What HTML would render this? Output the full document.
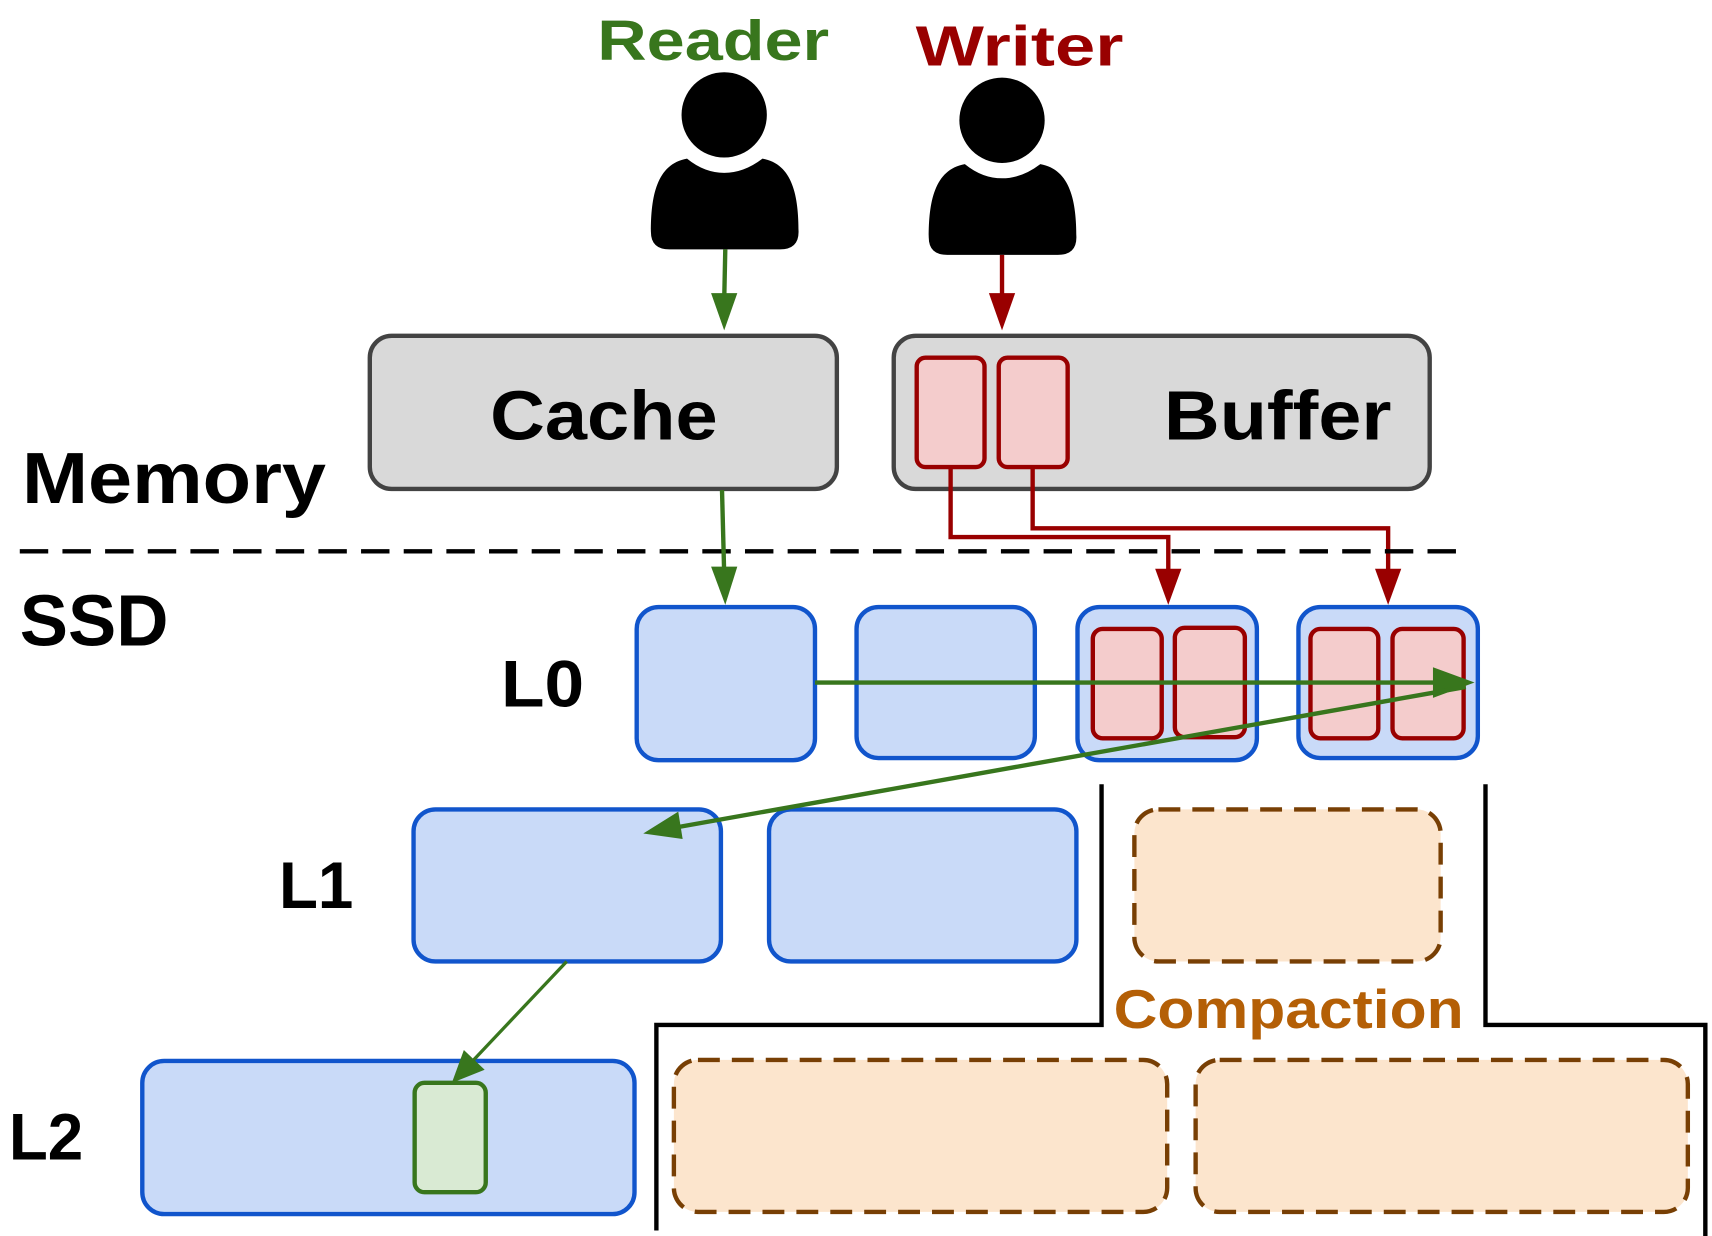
<!DOCTYPE html>
<html><head><meta charset="utf-8"><style>
html,body{margin:0;padding:0;background:#fff;}
svg{display:block;}
text{font-family:"Liberation Sans",sans-serif;font-weight:bold;}
</style></head><body>
<svg width="1712" height="1236" viewBox="0 0 1565 1130" xmlns="http://www.w3.org/2000/svg">
<!-- titles -->
<text x="652" y="55" font-size="52" fill="#38761d" text-anchor="middle" textLength="212" lengthAdjust="spacingAndGlyphs">Reader</text>
<text x="932" y="60" font-size="52" fill="#990000" text-anchor="middle" textLength="190" lengthAdjust="spacingAndGlyphs">Writer</text>
<!-- persons -->
<g fill="#000">
<circle cx="662" cy="105" r="39"/>
<path d="M628,145 C600,150 595,180 595,212 Q595,228 612,228 L713,228 Q730,228 730,212 C730,180 725,150 697,145 Q680,158 662,158 Q644,158 628,145 Z"/>
<circle cx="916" cy="110" r="39"/>
<path d="M882,150 C854,155 849,185 849,217 Q849,233 866,233 L967,233 Q984,233 984,217 C984,185 979,155 951,150 Q934,163 916,163 Q898,163 882,150 Z"/>
</g>
<!-- arrows from persons -->
<line x1="663" y1="228" x2="662" y2="275" stroke="#38761d" stroke-width="4"/>
<path d="M650,268 L674,268 L662,302 Z" fill="#38761d"/>
<line x1="916" y1="233" x2="916" y2="275" stroke="#990000" stroke-width="4"/>
<path d="M904,268 L928,268 L916,302 Z" fill="#990000"/>
<!-- memory boxes -->
<rect x="338" y="307" width="427" height="140" rx="20" fill="#d9d9d9" stroke="#434343" stroke-width="4"/>
<text x="552" y="402" font-size="64" text-anchor="middle" textLength="208" lengthAdjust="spacingAndGlyphs">Cache</text>
<rect x="817" y="307" width="490" height="140" rx="20" fill="#d9d9d9" stroke="#434343" stroke-width="4"/>
<text x="1168" y="402" font-size="64" text-anchor="middle" textLength="208" lengthAdjust="spacingAndGlyphs">Buffer</text>
<rect x="838" y="327" width="62" height="100" rx="8" fill="#f4cccc" stroke="#990000" stroke-width="4"/>
<rect x="913" y="327" width="63" height="100" rx="8" fill="#f4cccc" stroke="#990000" stroke-width="4"/>
<!-- red routing -->
<polyline points="869,427 869,491 1068,491 1068,528" fill="none" stroke="#990000" stroke-width="4"/>
<path d="M1056,520 L1080,520 L1068,553 Z" fill="#990000"/>
<polyline points="944,427 944,483 1269,483 1269,528" fill="none" stroke="#990000" stroke-width="4"/>
<path d="M1257,520 L1281,520 L1269,553 Z" fill="#990000"/>
<!-- labels -->
<text x="20" y="460" font-size="66" textLength="278" lengthAdjust="spacingAndGlyphs">Memory</text>
<line x1="18" y1="504" x2="1342" y2="504" stroke="#000" stroke-width="4" stroke-dasharray="26,13"/>
<text x="18" y="590" font-size="66" textLength="136" lengthAdjust="spacingAndGlyphs">SSD</text>
<text x="458" y="646" font-size="60" textLength="76" lengthAdjust="spacingAndGlyphs">L0</text>
<text x="255" y="830" font-size="60" textLength="68" lengthAdjust="spacingAndGlyphs">L1</text>
<text x="8" y="1060" font-size="60" textLength="68" lengthAdjust="spacingAndGlyphs">L2</text>
<!-- green cache arrow -->
<line x1="660" y1="448" x2="662" y2="525" stroke="#38761d" stroke-width="4"/>
<path d="M650,518 L674,518 L663,553 Z" fill="#38761d"/>
<!-- L0 -->
<g fill="#c9daf8" stroke="#1155cc" stroke-width="4">
<rect x="582" y="555" width="163" height="140" rx="20"/>
<rect x="783" y="555" width="163" height="138" rx="20"/>
<rect x="985" y="555" width="164" height="140" rx="20"/>
<rect x="1187" y="555" width="164" height="138" rx="20"/>
</g>
<g fill="#f4cccc" stroke="#990000" stroke-width="4">
<rect x="999" y="575" width="63" height="100" rx="9"/>
<rect x="1074" y="574" width="64" height="100" rx="9"/>
<rect x="1198" y="575" width="62" height="100" rx="9"/>
<rect x="1273" y="575" width="65" height="100" rx="9"/>
</g>
<!-- L1 / L2 -->
<g fill="#c9daf8" stroke="#1155cc" stroke-width="4">
<rect x="378" y="740" width="281" height="139" rx="20"/>
<rect x="703" y="740" width="281" height="139" rx="20"/>
<rect x="130" y="970" width="450" height="140" rx="20"/>
</g>
<rect x="379" y="990" width="65" height="100" rx="9" fill="#d9ead3" stroke="#38761d" stroke-width="4"/>
<!-- green L0 arrows -->
<line x1="745" y1="624" x2="1318" y2="624" stroke="#38761d" stroke-width="4"/>
<path d="M1310,610 L1348,624 L1310,638 Z" fill="#38761d"/>
<line x1="1340" y1="628" x2="615" y2="757" stroke="#38761d" stroke-width="4"/>
<path d="M588,762 L620,742 L624,767 Z" fill="#38761d"/>
<line x1="518" y1="879" x2="432" y2="970" stroke="#38761d" stroke-width="3"/>
<path d="M413,990 L424,960 L443,978 Z" fill="#38761d"/>
<!-- compaction -->
<g fill="#fce5cd" stroke="#783f04" stroke-width="4" stroke-dasharray="20,11">
<rect x="1037" y="740" width="280" height="139" rx="22"/>
<rect x="616" y="969" width="451" height="139" rx="22"/>
<rect x="1093" y="969" width="450" height="139" rx="22"/>
</g>
<polyline points="1007,717 1007,937 600,937 600,1125" fill="none" stroke="#000" stroke-width="4"/>
<polyline points="1358,717 1358,937 1559,937 1559,1130" fill="none" stroke="#000" stroke-width="4"/>
<text x="1178" y="940" font-size="50" fill="#b45f06" text-anchor="middle" textLength="320" lengthAdjust="spacingAndGlyphs">Compaction</text>
</svg>
</body></html>
